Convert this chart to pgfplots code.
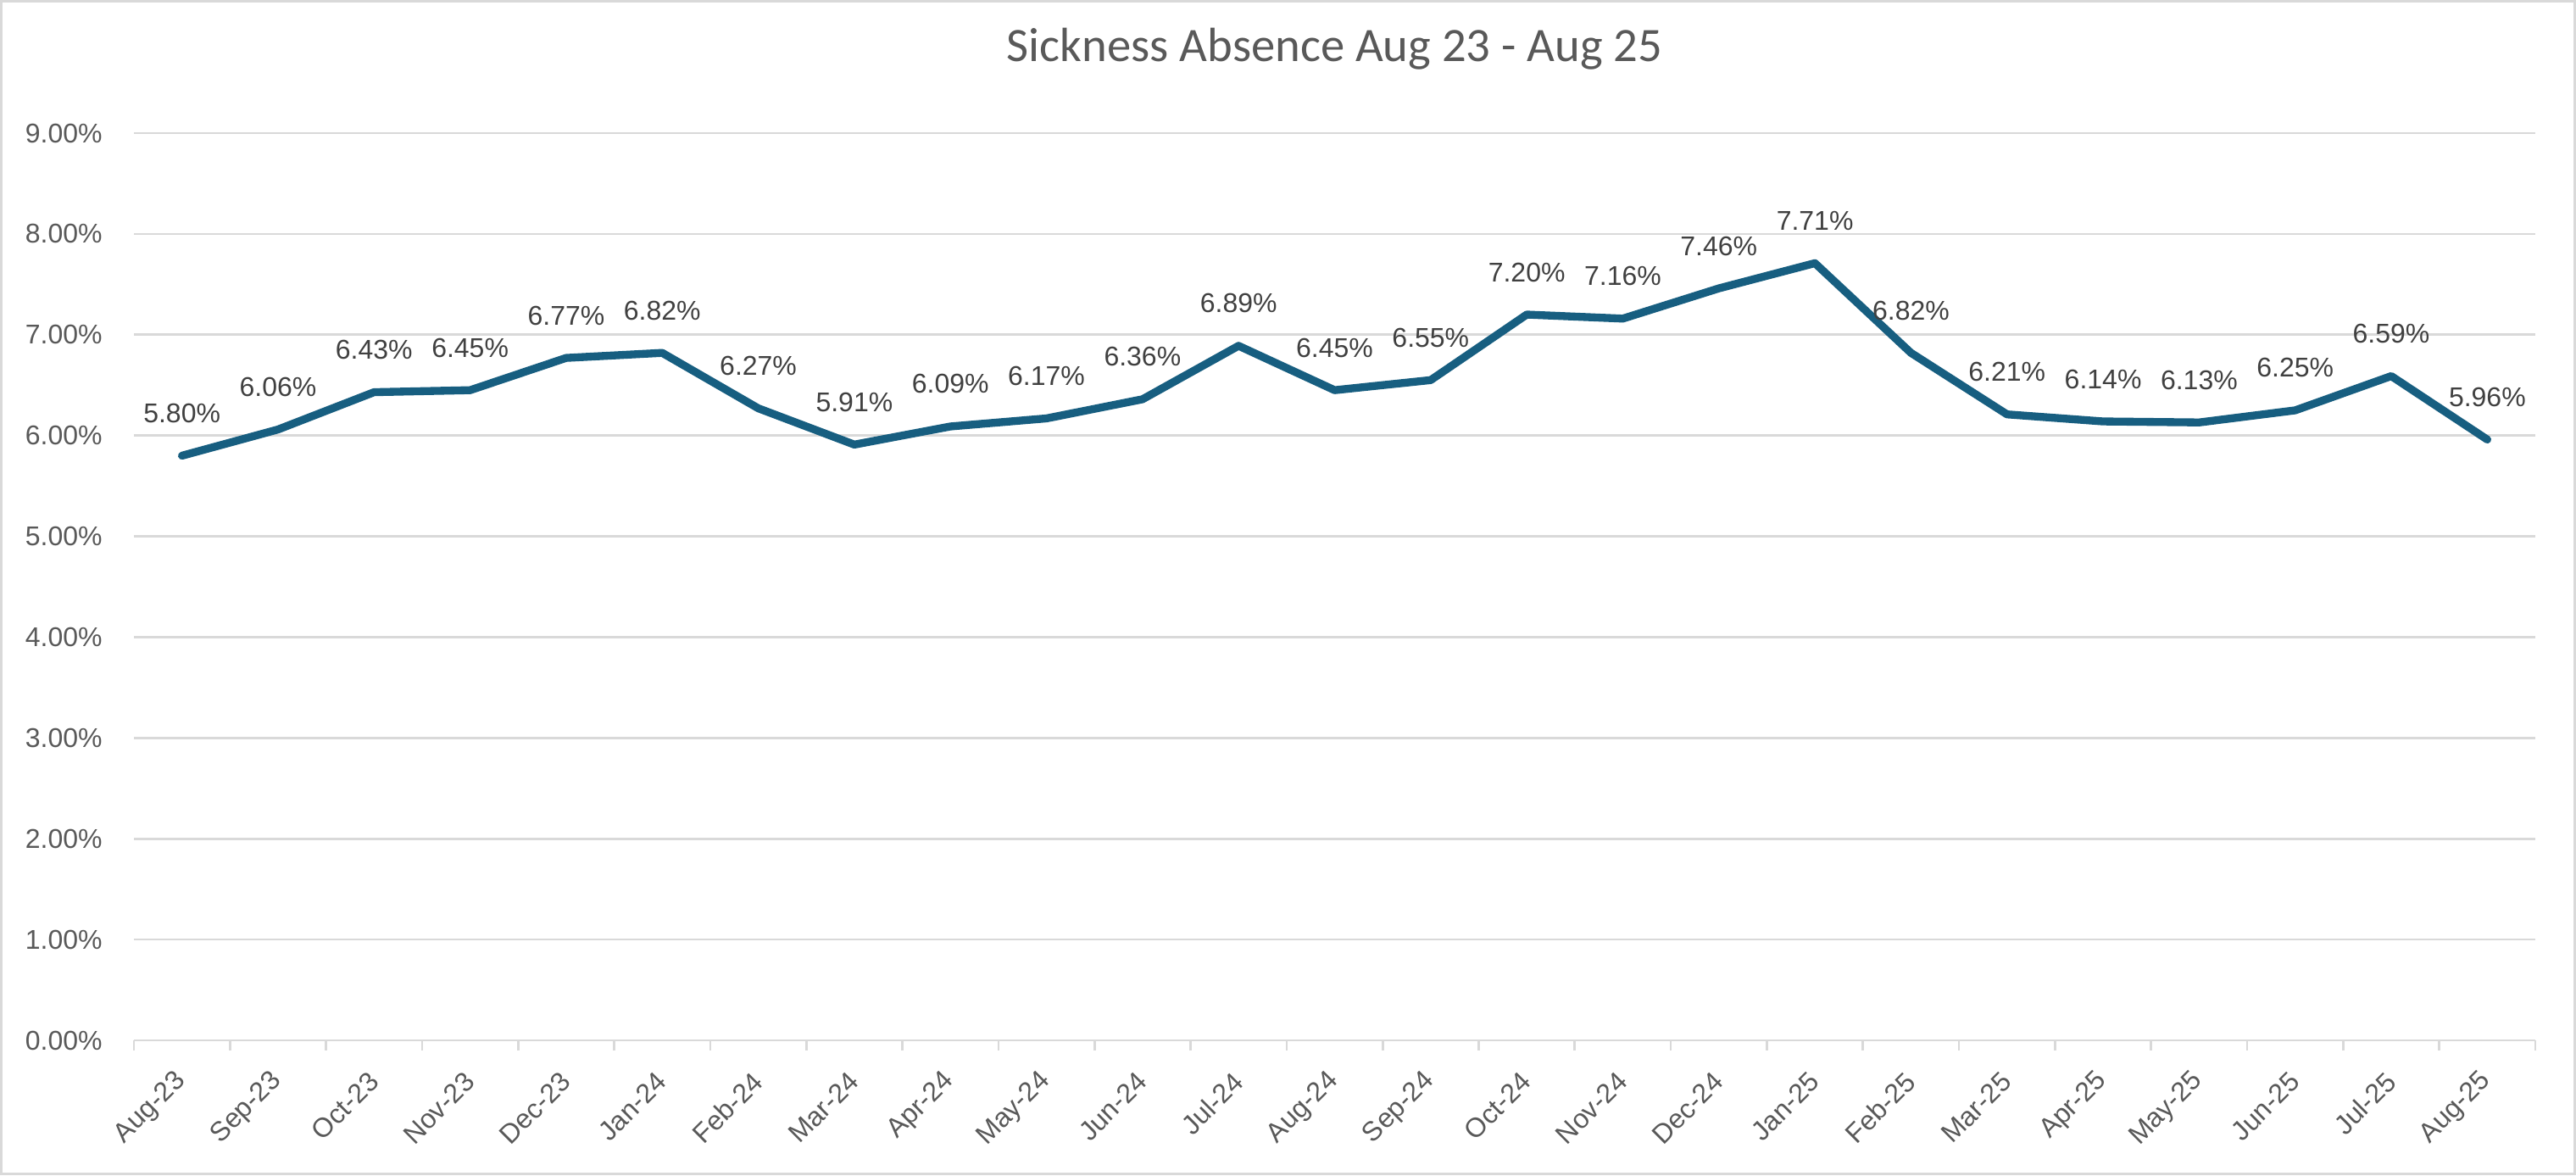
\documentclass[border=0pt]{standalone}
\usepackage{pgfplots}
\pgfplotsset{compat=1.18}
\usepackage{fontspec}
\setmainfont{Liberation Sans}
\newfontfamily\titlefont{Carlito}
\definecolor{lineblue}{HTML}{175E80}
\definecolor{gridgray}{HTML}{D9D9D9}
\definecolor{ticktext}{HTML}{595959}
\definecolor{labeltext}{HTML}{404040}

\begin{document}
\begin{tikzpicture}
\useasboundingbox (0,0) rectangle (911.7pt,415.8pt);
\draw[gridgray, line width=0.9pt] (0.45pt,0.45pt) rectangle (911.25pt,415.35pt);
\begin{axis}[
    at={(47.4pt,47.7pt)}, anchor=south west,
    width=849.9pt, height=321pt, scale only axis,
    xmin=-0.5, xmax=24.5,
    ymin=0, ymax=9,
    xtick={0,...,24},
    xticklabels={Aug-23,Sep-23,Oct-23,Nov-23,Dec-23,Jan-24,Feb-24,Mar-24,Apr-24,May-24,Jun-24,Jul-24,Aug-24,Sep-24,Oct-24,Nov-24,Dec-24,Jan-25,Feb-25,Mar-25,Apr-25,May-25,Jun-25,Jul-25,Aug-25},
    minor xtick={-0.5,0.5,...,24.5},
    ytick={0,1,...,9},
    yticklabel={\pgfmathprintnumber[fixed,fixed zerofill,precision=2]{\tick}\%},
    /pgf/number format/assume math mode=true,
    major tick length=0pt,
    minor tick length=3.6pt,
    tick align=outside,
    minor x tick style={gridgray, line width=0.8pt},
    axis x line*=bottom,
    axis y line*=left,
    x axis line style={gridgray, line width=0.8pt, -},
    y axis line style={draw=none},
    ymajorgrids=true,
    grid style={gridgray, line width=0.8pt},
    tick label style={font=\fontsize{9.6}{11}\selectfont, text=ticktext},
    yticklabel style={inner sep=0pt, xshift=-11pt},
    xticklabel style={yshift=-12.9pt, rotate=45, anchor=east, inner sep=0pt},
    title={\titlefont Sickness Absence Aug 23 - Aug 25},
    title style={at={(0.5,1)}, anchor=base, yshift=19.5pt, font=\fontsize{17}{20}\selectfont, text=ticktext},
    nodes near coords={\pgfmathprintnumber[fixed,fixed zerofill,precision=2]{\pgfplotspointmeta}\%},
    every node near coord/.append style={font=\fontsize{9.6}{11}\selectfont, text=labeltext, anchor=base, yshift=11.7pt, inner sep=0pt},
    clip=false,
]
\addplot[lineblue, line width=2.8pt, line join=round, line cap=round, mark=none] coordinates {
    (0,5.80) (1,6.06) (2,6.43) (3,6.45) (4,6.77) (5,6.82) (6,6.27) (7,5.91)
    (8,6.09) (9,6.17) (10,6.36) (11,6.89) (12,6.45) (13,6.55) (14,7.20) (15,7.16)
    (16,7.46) (17,7.71) (18,6.82) (19,6.21) (20,6.14) (21,6.13) (22,6.25) (23,6.59)
    (24,5.96)
};
\end{axis}
\end{tikzpicture}
\end{document}
